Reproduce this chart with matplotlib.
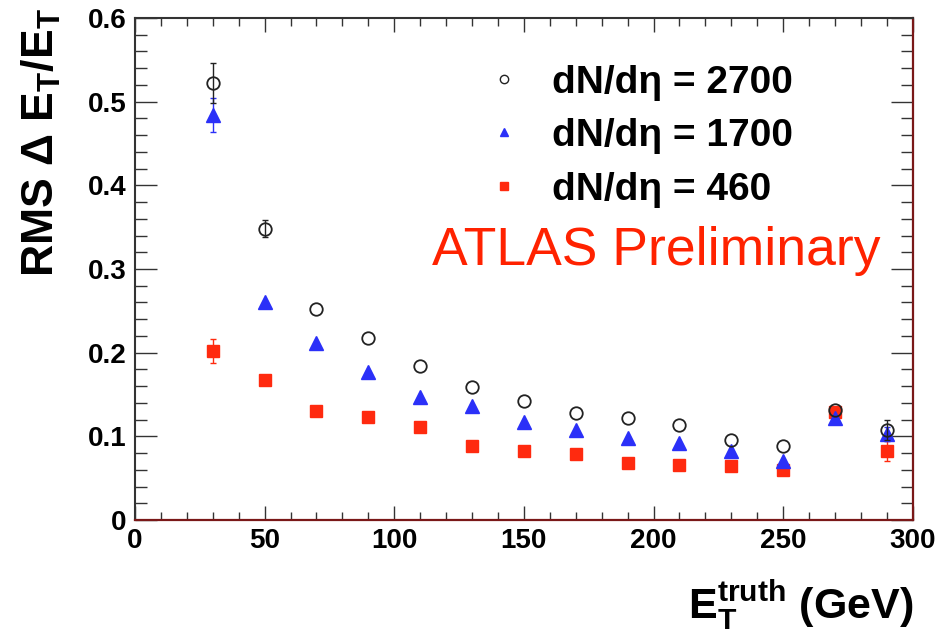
import matplotlib
matplotlib.use("Agg")
import matplotlib.pyplot as plt
from matplotlib.lines import Line2D
from matplotlib.ticker import MultipleLocator, FuncFormatter
import numpy as np

plt.rcParams['font.family'] = ['Liberation Sans', 'DejaVu Sans']
plt.rcParams['mathtext.fontset'] = 'custom'
plt.rcParams['mathtext.rm'] = 'Liberation Sans'
plt.rcParams['mathtext.bf'] = 'Liberation Sans:bold'
plt.rcParams['mathtext.it'] = 'Liberation Sans:italic'

# ---- data ----
et_truth = [30, 50, 70, 90, 110, 130, 150, 170, 190, 210, 230, 250, 270, 290]

rms_2700 = [0.522, 0.348, 0.252, 0.217, 0.184, 0.159, 0.142, 0.128, 0.122, 0.114, 0.096, 0.089, 0.132, 0.108]
err_2700 = [0.024, 0.010, 0.0, 0.0, 0.0, 0.0, 0.0, 0.0, 0.0, 0.0, 0.0, 0.0, 0.0, 0.012]

rms_1700 = [0.484, 0.260, 0.211, 0.177, 0.147, 0.136, 0.117, 0.107, 0.098, 0.092, 0.082, 0.071, 0.122, 0.103]
err_1700 = [0.020, 0.0, 0.0, 0.0, 0.0, 0.0, 0.0, 0.0, 0.0, 0.0, 0.0, 0.0, 0.0, 0.008]

rms_460 = [0.202, 0.167, 0.130, 0.123, 0.111, 0.089, 0.082, 0.079, 0.068, 0.066, 0.065, 0.060, 0.129, 0.082]
err_460 = [0.014, 0.0, 0.0, 0.0, 0.0, 0.0, 0.0, 0.0, 0.0, 0.0, 0.0, 0.0, 0.0, 0.012]

labels = ['dN/dη = 2700', 'dN/dη = 1700', 'dN/dη = 460']

BLUE = '#2b30f8'
RED = '#ff2a0f'
BLACK = '#222222'

fig = plt.figure(figsize=(9.44, 6.37), dpi=100)
ax = fig.add_axes([0.143, 0.1837, 0.824, 0.788])


def draw_series(y, err, fmt, ecol, z, **mk):
    x = np.asarray(et_truth, float)
    y = np.asarray(y, float)
    e = np.asarray(err, float)
    sel = e > 0
    ax.errorbar(x[sel], y[sel], yerr=e[sel], fmt='none', ecolor=ecol, elinewidth=1.0,
                capsize=2.5, zorder=z - 0.5)
    ax.plot(x, y, ls='none', marker=fmt, zorder=z, **mk)


draw_series(rms_460, err_460, 's', RED, 3, color=RED, ms=9, mec=RED)
draw_series(rms_1700, err_1700, '^', BLUE, 4, color=BLUE, ms=9.5, mec=BLUE)
draw_series(rms_2700, err_2700, 'o', BLACK, 5, mfc='none', mec=BLACK, mew=1.3, ms=9)

ax.set_xlim(0, 300)
ax.set_ylim(0, 0.6)
ax.xaxis.set_major_locator(MultipleLocator(50))
ax.xaxis.set_minor_locator(MultipleLocator(10))
ax.yaxis.set_major_locator(MultipleLocator(0.1))
ax.yaxis.set_minor_locator(MultipleLocator(0.02))
ax.xaxis.set_major_formatter(FuncFormatter(lambda v, p: f'{v:g}'))
ax.yaxis.set_major_formatter(FuncFormatter(lambda v, p: f'{v:g}'))

ax.tick_params(axis='x', which='major', direction='in', length=10, width=1.0, top=True, bottom=True,
               labelsize=20, pad=6, colors='#333333', labelcolor='black')
ax.tick_params(axis='x', which='minor', direction='in', length=5.5, width=1.0, top=True, bottom=True,
               colors='#333333')
ax.tick_params(axis='y', which='major', direction='in', length=16, width=1.0, left=True, right=True,
               labelsize=20, pad=6, colors='#333333', labelcolor='black')
ax.tick_params(axis='y', which='minor', direction='in', length=8.5, width=1.0, left=True, right=True,
               colors='#333333')
for lab in ax.get_xticklabels() + ax.get_yticklabels():
    lab.set_fontweight('bold')

for s in ['left', 'top']:
    ax.spines[s].set_color('#333333')
    ax.spines[s].set_linewidth(1.5)
for s in ['bottom', 'right']:
    ax.spines[s].set_color('#7a1818')
    ax.spines[s].set_linewidth(1.6)

ax.set_ylabel(r'$\mathbf{RMS\ \Delta\ E_T/E_T}$', fontsize=32, labelpad=18, loc='top')
ax.yaxis.label.set_y(1.02)
ax.set_xlabel(r'$\mathbf{E_T^{truth}}$ (GeV)', fontsize=31, fontweight='bold', loc='right', labelpad=17)

handles = [
    Line2D([], [], marker='o', ls='none', mfc='none', mec=BLACK, mew=1.0, ms=6),
    Line2D([], [], marker='^', ls='none', color=BLUE, ms=6),
    Line2D([], [], marker='s', ls='none', color=RED, ms=6),
]
leg = ax.legend(handles, labels, loc='upper left', bbox_to_anchor=(0.424, 0.946), frameon=False,
                prop={'size': 28, 'weight': 'bold'}, handlelength=1.0, handletextpad=0.75,
                labelspacing=0.45, borderpad=0)

ax.text(0.382, 0.508, 'ATLAS Preliminary', transform=ax.transAxes, color='#ff2200',
        fontsize=38.5, va='baseline', ha='left')

fig.savefig('out.png', dpi=100)
